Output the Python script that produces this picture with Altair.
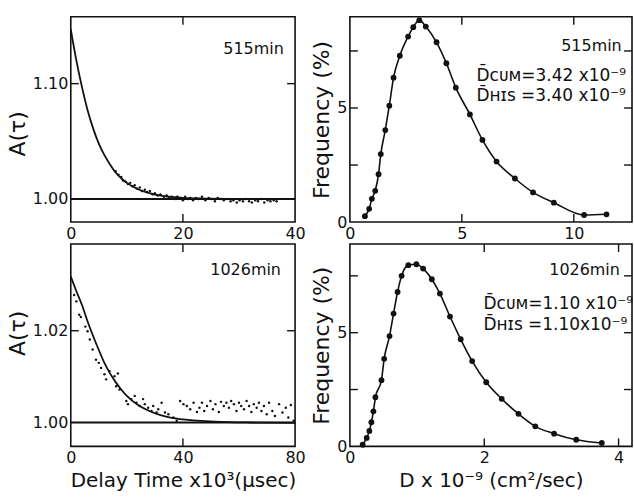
import altair as alt
import pandas as pd

# ---------------- data ----------------
# Top-left: A(tau) at 515 min, delay time x10^3 usec
tl_curve_t = [0, 1, 2, 3, 4, 5, 6, 7, 8, 9, 10, 12, 14, 16, 18, 20, 24, 28, 32, 36]
tl_curve_a = [1.147, 1.120, 1.097, 1.077, 1.061, 1.048, 1.038, 1.030, 1.023, 1.018,
              1.014, 1.0085, 1.005, 1.003, 1.0018, 1.001, 1.0004, 1.0001, 1.0, 1.0]
tl_dot_t = [8.0, 8.5, 9.0, 9.3, 9.8, 10.2, 10.6, 11.0, 11.4, 11.8, 12.3, 12.7, 13.2, 13.6,
            14.1, 14.6, 15.0, 15.5, 16.0, 16.6, 17.1, 17.5, 18.0, 18.6, 19.0, 19.5, 20.0,
            20.4, 20.9, 21.3, 21.8, 22.3, 22.8, 23.4, 24.0, 24.6, 25.1, 25.7, 26.2, 26.8,
            27.3, 27.9, 28.5, 29.0, 29.6, 30.1, 30.7, 31.2, 31.8, 32.3, 32.9, 33.4, 34.0,
            34.5, 35.1, 35.6, 36.2, 36.7]
tl_dot_a = [1.024, 1.021, 1.019, 1.016, 1.015, 1.013, 1.014, 1.011, 1.012, 1.009, 1.010,
            1.007, 1.008, 1.006, 1.007, 1.004, 1.005, 1.003, 1.004, 1.002, 1.003, 1.001,
            1.002, 1.000, 1.002, 1.001, 0.999, 1.002, 1.000, 1.001, 0.999, 1.001, 1.000,
            1.002, 0.999, 1.001, 1.000, 0.998, 1.001, 1.000, 0.999, 1.000, 0.998, 0.999,
            0.997, 0.999, 0.998, 1.000, 0.998, 0.997, 0.999, 0.998, 1.000, 0.997, 0.999,
            0.998, 0.999, 0.998]

# Bottom-left: A(tau) at 1026 min
bl_curve_t = [0, 2, 4, 6, 8, 10, 12, 14, 16, 18, 20, 24, 28, 32, 36, 40, 48, 56, 64, 80]
bl_curve_a = [1.0318, 1.0286, 1.0256, 1.0220, 1.0188, 1.0158, 1.0130, 1.0107, 1.0088,
              1.0072, 1.0058, 1.0038, 1.0025, 1.0016, 1.0010, 1.0007, 1.0003, 1.0001,
              1.0000, 0.9999]
bl_dot_t = [1.2, 2.0, 3.0, 3.6, 5.2, 6.0, 6.8, 7.8, 9.0, 10.0, 10.8, 12.0, 12.6, 13.8,
            15.6, 16.2, 16.8, 17.4, 19.8, 20.4, 21.6, 22.8, 23.4, 24.6, 25.8, 26.4, 27.6,
            28.8, 29.4, 30.6, 31.2, 32.4, 33.6, 34.8, 36.6, 37.8, 39.0, 40.2, 41.4, 42.6,
            43.8, 45.0, 45.9, 46.8, 47.6, 48.6, 49.8, 50.7, 51.6, 52.8, 53.6, 54.6, 55.5,
            56.4, 57.2, 58.2, 59.1, 60.0, 60.8, 61.8, 62.7, 63.6, 64.4, 65.3, 66.3, 67.1,
            68.0, 68.9, 69.9, 70.7, 71.9, 72.8, 74.3, 75.5, 76.7, 77.6, 78.5, 79.5]
bl_dot_a = [1.0278, 1.0264, 1.0235, 1.0230, 1.0209, 1.0199, 1.0181, 1.0159, 1.0137,
            1.0130, 1.0119, 1.0105, 1.0094, 1.0112, 1.0101, 1.0079, 1.0107, 1.0072,
            1.0047, 1.0040, 1.0051, 1.0058, 1.0043, 1.0036, 1.0051, 1.0040, 1.0032,
            1.0025, 1.0036, 1.0022, 1.0029, 1.0043, 1.0022, 1.0018, 1.0011, 1.0004,
            1.0047, 1.0040, 1.0036, 1.0029, 1.0043, 1.0023, 1.0032, 1.0043, 1.0025,
            1.0036, 1.0047, 1.0029, 1.0040, 1.0023, 1.0045, 1.0036, 1.0043, 1.0032,
            1.0047, 1.0040, 1.0025, 1.0043, 1.0036, 1.0029, 1.0047, 1.0036, 1.0023,
            1.0040, 1.0032, 1.0043, 1.0025, 1.0036, 1.0018, 1.0043, 1.0025, 1.0014,
            1.0040, 1.0022, 1.0032, 1.0011, 1.0038, 1.0004]

# Top-right: frequency distribution at 515 min
tr_D = [0.67, 0.86, 0.98, 1.13, 1.28, 1.38, 1.58, 1.76, 1.95, 2.23, 2.60, 2.83, 3.10,
        3.39, 3.87, 4.31, 4.73, 5.36, 5.92, 6.55, 7.37, 8.18, 9.11, 10.46, 11.46]
tr_F = [0.26, 0.58, 1.02, 1.37, 2.10, 2.98, 4.03, 5.10, 6.33, 7.29, 8.13, 8.54, 8.85,
        8.57, 7.88, 6.96, 5.89, 4.72, 3.60, 2.65, 1.91, 1.30, 0.85, 0.31, 0.34]

# Bottom-right: frequency distribution at 1026 min
br_D = [0.19, 0.25, 0.29, 0.32, 0.35, 0.38, 0.47, 0.51, 0.59, 0.65, 0.71, 0.77, 0.87,
        0.99, 1.09, 1.22, 1.34, 1.49, 1.65, 1.82, 2.03, 2.26, 2.51, 2.76, 3.04, 3.37, 3.75]
br_F = [0.07, 0.37, 0.68, 1.06, 1.54, 2.16, 2.91, 3.85, 4.85, 5.84, 6.79, 7.50, 7.97,
        8.01, 7.82, 7.35, 6.72, 5.71, 4.71, 3.75, 2.82, 2.09, 1.43, 0.88, 0.56, 0.29, 0.15]

# tick values / labels
tl_xlabels = [0, 20, 40]
tl_ylabels = [1.00, 1.10]
tl_xticks = [20]
tl_yticks = [1.10]
bl_xlabels = [0, 40, 80]
bl_ylabels = [1.00, 1.02]
bl_xticks = [40]
bl_yticks = [1.02]
tr_xlabels = [0, 5, 10]
tr_ylabels = [0, 5]
tr_xticks = [5, 10]
tr_yticks = [2.5, 5, 7.5]
br_xlabels = [0, 2, 4]
br_ylabels = [0, 5]
br_xticks = [2, 4]
br_yticks = [2.5, 5, 7.5]
baseline_A = [1.0]

label_515 = "515min"
label_1026 = "1026min"
tr_cum = "D\u0304\u1d04\u1d1c\u1d0d=3.42 x10\u207b\u2079"
tr_his = "D\u0304\u029c\u026a\ua731 =3.40 x10\u207b\u2079"
br_cum = "D\u0304\u1d04\u1d1c\u1d0d=1.10 x10\u207b\u2079"
br_his = "D\u0304\u029c\u026a\ua731 =1.10x10\u207b\u2079"

INK = "#111111"
FONT = "DejaVu Sans"


def make_panel(W, H, xdom, ydom, xlabels, ylabels, xticks, yticks, xtitle, ytitle,
               yfmt, ytitleY, layers_fn, texts):
    def xenc():
        kw = dict(values=xlabels, ticks=False, domain=False, grid=False,
                  labelPadding=3, labelFlush=False, labelOverlap=False,
                  format="d", titlePadding=5, titleFontSize=20)
        if xtitle is not None:
            return alt.X("x:Q", scale=alt.Scale(domain=xdom, nice=False, zero=False),
                         axis=alt.Axis(**kw), title=xtitle)
        return alt.X("x:Q", scale=alt.Scale(domain=xdom, nice=False, zero=False),
                     axis=alt.Axis(**kw), title=None)

    def yenc():
        kw = dict(values=ylabels, ticks=False, domain=False, grid=False,
                  labelPadding=3, labelOverlap=False, format=yfmt, titlePadding=3,
                  titleFontSize=22)
        if ytitleY is not None:
            kw["titleY"] = ytitleY
        return alt.Y("y:Q", scale=alt.Scale(domain=ydom, nice=False, zero=False),
                     axis=alt.Axis(**kw), title=ytitle)

    layers = layers_fn(xenc, yenc)
    xt = pd.DataFrame({"x": xticks})
    yt = pd.DataFrame({"y": yticks})
    layers += [
        alt.Chart(xt).mark_rule(color=INK, strokeWidth=1.4).encode(
            x=xenc(), y=alt.value(H), y2=alt.value(H - 8)),
        alt.Chart(xt).mark_rule(color=INK, strokeWidth=1.4).encode(
            x=xenc(), y=alt.value(0), y2=alt.value(8)),
        alt.Chart(yt).mark_rule(color=INK, strokeWidth=1.4).encode(
            y=yenc(), x=alt.value(0), x2=alt.value(8)),
        alt.Chart(yt).mark_rule(color=INK, strokeWidth=1.4).encode(
            y=yenc(), x=alt.value(W), x2=alt.value(W - 8)),
    ]
    one = pd.DataFrame({"k": [0]})
    for (txt, px, py, fs) in texts:
        layers.append(
            alt.Chart(one).mark_text(align="left", baseline="alphabetic", font=FONT,
                                     fontSize=fs, color=INK).encode(
                x=alt.value(px), y=alt.value(py), text=alt.value(txt)))
    return alt.layer(*layers).properties(width=W, height=H)


def corr_layers(ct, ca, dt, da):
    def fn(xenc, yenc):
        curve = pd.DataFrame({"x": ct, "y": ca})
        dots = pd.DataFrame({"x": dt, "y": da})
        base = pd.DataFrame({"y": baseline_A})
        return [
            alt.Chart(base).mark_rule(color=INK, strokeWidth=1.8).encode(y=yenc()),
            alt.Chart(dots).mark_circle(color=INK, size=6, opacity=1).encode(
                x=xenc(), y=yenc()),
            alt.Chart(curve).mark_line(color=INK, strokeWidth=1.8,
                                       interpolate="monotone", clip=True).encode(
                x=xenc(), y=yenc()),
        ]
    return fn


def dist_layers(D, F):
    def fn(xenc, yenc):
        df = pd.DataFrame({"x": D, "y": F})
        return [
            alt.Chart(df).mark_line(color=INK, strokeWidth=1.6,
                                    interpolate="monotone", clip=True).encode(
                x=xenc(), y=yenc()),
            alt.Chart(df).mark_circle(color=INK, size=34, opacity=1).encode(
                x=xenc(), y=yenc()),
        ]
    return fn


LW, RW = 225, 283
TH, BH = 206, 203

tl = make_panel(LW, TH, [0, 40], [0.98, 1.158], tl_xlabels, tl_ylabels, tl_xticks,
                tl_yticks, None, "A(\u03c4)", ".2f", 117,
                corr_layers(tl_curve_t, tl_curve_a, tl_dot_t, tl_dot_a),
                [(label_515, 153, 37, 16)])
bl = make_panel(LW, BH, [0, 80], [0.9948, 1.0389], bl_xlabels, bl_ylabels, bl_xticks,
                bl_yticks, "Delay Time x10\u00b3(\u03bcsec)", "A(\u03c4)", ".2f", 89,
                corr_layers(bl_curve_t, bl_curve_a, bl_dot_t, bl_dot_a),
                [(label_1026, 140, 31, 16)])
tr = make_panel(RW, TH, [0, 12.6], [0, 9.0], tr_xlabels, tr_ylabels, tr_xticks,
                tr_yticks, None, "Frequency (%)", "d", None,
                dist_layers(tr_D, tr_F),
                [(label_515, 212, 34, 16), (tr_cum, 127, 64, 17), (tr_his, 127, 85, 17)])
br = make_panel(RW, BH, [0, 4.2], [0, 8.9], br_xlabels, br_ylabels, br_xticks,
                br_yticks, "D x 10\u207b\u2079 (cm\u00b2/sec)", "Frequency (%)", "d", None,
                dist_layers(br_D, br_F),
                [(label_1026, 200, 31, 16), (br_cum, 134, 65, 17), (br_his, 134, 86, 17)])

chart = alt.concat(tl, tr, bl, br, columns=2, spacing={"row": 22, "column": 55},
                   bounds="flush").properties(
    padding={"left": 5, "top": 14, "right": 0, "bottom": 0},
    background="white",
).configure_axis(
    labelFont=FONT, labelFontSize=16, labelColor=INK,
    titleFont=FONT, titleFontSize=20, titleFontWeight="normal", titleColor=INK,
).configure_view(stroke=INK, strokeWidth=1.6)

chart.save("out.html", embed_options={"renderer": "svg", "actions": False})
